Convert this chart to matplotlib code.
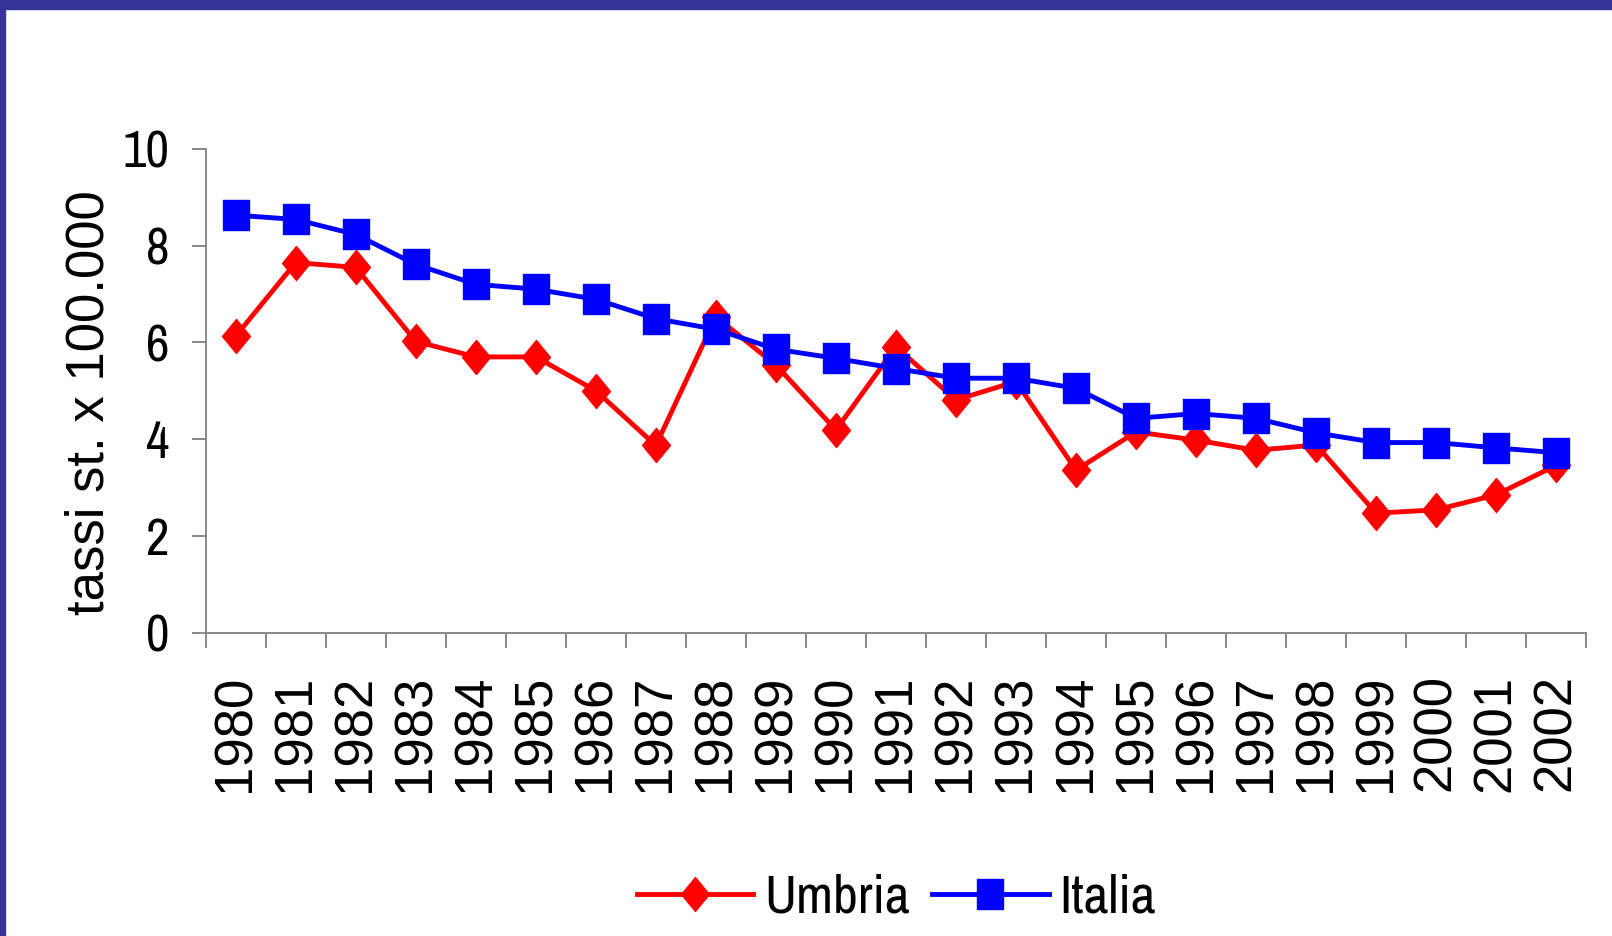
import numpy as np
import matplotlib
matplotlib.use("Agg")
import matplotlib.pyplot as plt
from matplotlib.path import Path
from matplotlib.patches import Rectangle
from matplotlib import font_manager

years = [str(y) for y in range(1980, 2003)]
umbria = [6.13, 7.65, 7.55, 6.02, 5.70, 5.70, 5.00, 3.87, 6.53, 5.53, 4.19, 5.91,
          4.81, 5.19, 3.36, 4.15, 3.98, 3.77, 3.88, 2.47, 2.54, 2.85, 3.46]
italia = [8.63, 8.54, 8.23, 7.61, 7.20, 7.10, 6.89, 6.49, 6.27, 5.86, 5.67, 5.46,
          5.26, 5.26, 5.05, 4.43, 4.53, 4.43, 4.13, 3.93, 3.93, 3.82, 3.72]

# the original uses a narrow face for tick numbers and legend
cands = []
for f in font_manager.fontManager.ttflist:
    if ("Narrow" in f.name or "Condensed" in f.name) and f.style == "normal" \
            and f.weight in (400, "normal", "regular", "book"):
        score = 0 if f.name == "Liberation Sans Narrow" else 1
        cands.append((score, f.fname))
cands.sort()
if cands:
    narrow_fp = font_manager.FontProperties(fname=cands[0][1])
else:
    narrow_fp = font_manager.FontProperties(family="DejaVu Sans", stretch="condensed")

def narrow(size):
    fp = narrow_fp.copy()
    fp.set_size(size)
    return fp

def regular(size):
    return font_manager.FontProperties(family=["Liberation Sans", "DejaVu Sans"], size=size)

diamond = Path([(0, 1), (0.82, 0), (0, -1), (-0.82, 0), (0, 1)],
               [Path.MOVETO, Path.LINETO, Path.LINETO, Path.LINETO, Path.CLOSEPOLY])
square = Path([(-0.86, -1), (0.86, -1), (0.86, 1), (-0.86, 1), (-0.86, -1)],
              [Path.MOVETO, Path.LINETO, Path.LINETO, Path.LINETO, Path.CLOSEPOLY])

fig = plt.figure(figsize=(16.12, 9.36), dpi=100)
ax = fig.add_axes([0.1276, 0.324, 0.8564, 0.517])

x = np.arange(len(years))
ax.plot(x, umbria, color="#ff0000", lw=3.5, marker=diamond, ms=24.5, label="Umbria", zorder=3)
ax.plot(x, italia, color="#0000ff", lw=3.5, marker=square, ms=21, label="Italia", zorder=4)

ax.set_xlim(-0.5, len(years) - 0.5)
ax.set_ylim(0, 10)
ax.set_yticks([0, 2, 4, 6, 8, 10])
ax.set_yticklabels(["0", "2", "4", "6", "8", "10"], fontproperties=narrow(37))
ax.set_xticks(np.arange(-0.5, len(years), 1.0))
ax.set_xticklabels([])
ax.set_xticks(x, minor=True)
ax.set_xticklabels(years, minor=True, rotation=90, fontproperties=regular(38))
ax.tick_params(axis="x", which="minor", length=0, pad=30)
ax.tick_params(axis="x", which="major", length=11, width=1.3, color="#808080", direction="out")
ax.tick_params(axis="y", length=10, width=1.3, color="#808080", pad=16)

for side in ["top", "right"]:
    ax.spines[side].set_visible(False)
for side in ["left", "bottom"]:
    ax.spines[side].set_color("#808080")
    ax.spines[side].set_linewidth(1.3)

ax.set_ylabel("tassi st. x 100.000", fontproperties=regular(38), labelpad=6)
ax.yaxis.label.set_y(0.475)

leg = fig.legend(loc="center", bbox_to_anchor=(0.556, 0.041), ncol=2, frameon=False,
                 prop=narrow(39), handlelength=2.15,
                 columnspacing=0.42, handletextpad=0.2)

fig.add_artist(Rectangle((0, 1 - 9 / 936), 1, 9 / 936, transform=fig.transFigure,
                         color="#353599", zorder=10))
fig.add_artist(Rectangle((0, 0), 5 / 1612, 1, transform=fig.transFigure,
                         color="#353599", zorder=10))

fig.savefig("out.png", dpi=100)
